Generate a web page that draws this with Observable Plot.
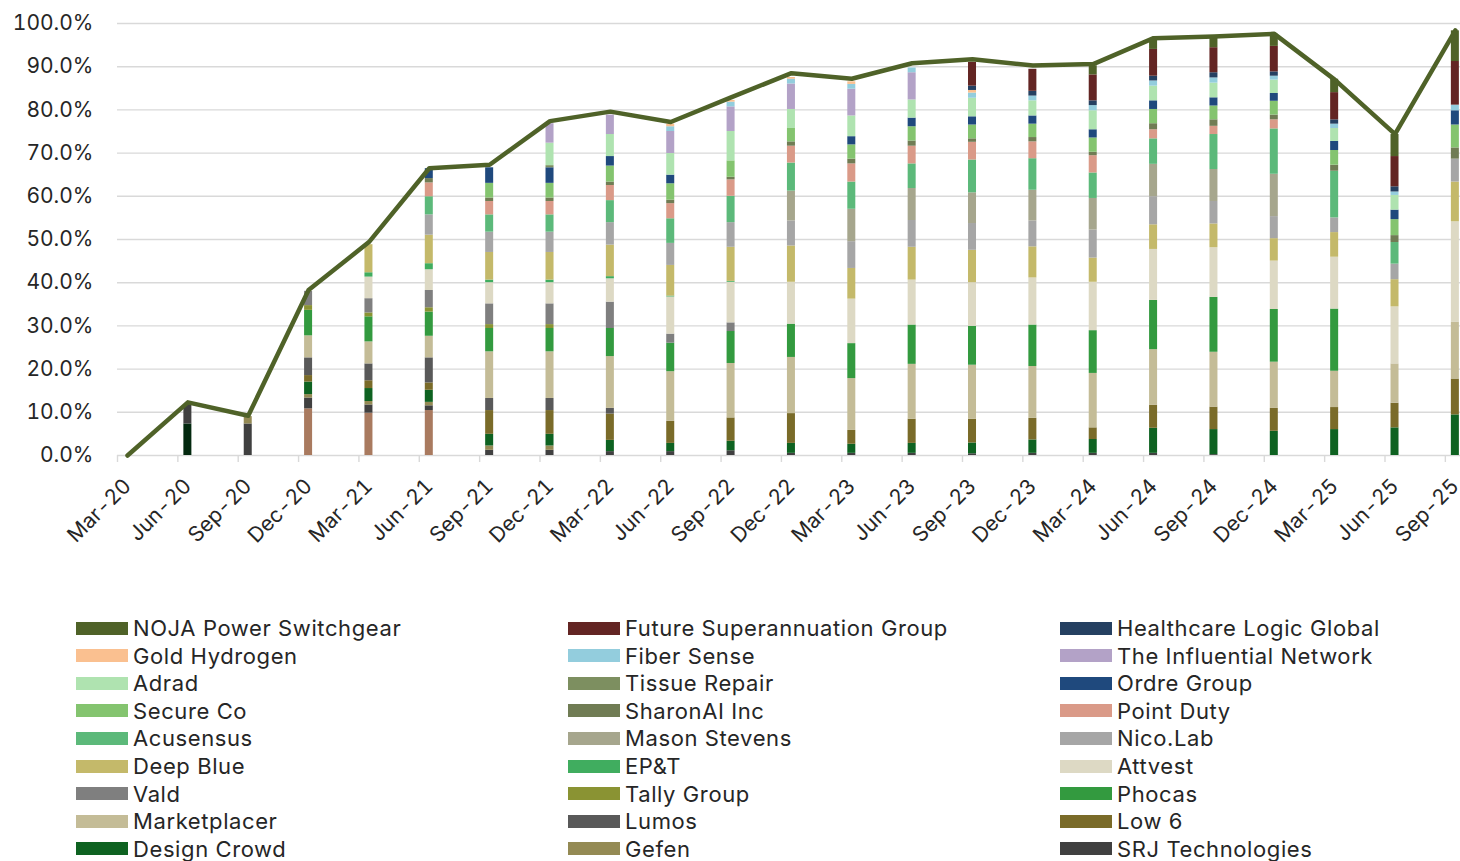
<!DOCTYPE html>
<html>
<head>
<meta charset="utf-8">
<script src="https://cdn.jsdelivr.net/npm/d3@7"></script>
<script src="https://cdn.jsdelivr.net/npm/@observablehq/plot@0.6"></script>
<style>
  html, body { margin: 0; padding: 0; background: #fff; }
  #wrap { position: relative; width: 1460px; height: 861px; overflow: hidden; font-family: Inter, "Noto Sans", sans-serif; }
  #chart { position: absolute; left: 0; top: 0; }
  #legend { position: absolute; left: 0; top: 0; width: 1460px; }
  .li { position: absolute; display: flex; align-items: center; height: 26px; font-size: 22px; letter-spacing: 0.6px; color: #262626; white-space: nowrap; }
  .sw { width: 52px; height: 13px; margin-right: 5px; flex: none; }
</style>
</head>
<body>
<div id="wrap"><div id="chart"></div><div id="legend"></div></div>
<script>
const periods = ["Mar-20","Jun-20","Sep-20","Dec-20","Mar-21","Jun-21","Sep-21","Dec-21","Mar-22","Jun-22","Sep-22","Dec-22","Mar-23","Jun-23","Sep-23","Dec-23","Mar-24","Jun-24","Sep-24","Dec-24","Mar-25","Jun-25","Sep-25"];

// Stack order, bottom to top
const seriesNames = ["Series A","Series B","SRJ Technologies","Gefen","Design Crowd","Low 6","Lumos","Marketplacer","Phocas","Tally Group","Vald","Attvest","EP&T","Deep Blue","Nico.Lab","Mason Stevens","Acusensus","Point Duty","SharonAI Inc","Secure Co","Ordre Group","Tissue Repair","Adrad","The Influential Network","Fiber Sense","Gold Hydrogen","Healthcare Logic Global","Future Superannuation Group","NOJA Power Switchgear"];
const seriesColors = ["#03290f","#a97a5f","#404040","#948a54","#0e6221","#7a6b29","#595959","#c4bc97","#339a3f","#8a9333","#7f7f7f","#ddd9c4","#40ad5f","#c4b96a","#a6a6a6","#a6a68d","#5cb97a","#da9a88","#707c54","#84c46f","#1f497d","#7d8f60","#afe3b0","#b3a2c7","#93cddd","#fac090","#254061","#632523","#4f6228"];

// Legend order (as displayed, row by row)
const legendNames = ["NOJA Power Switchgear","Future Superannuation Group","Healthcare Logic Global","Gold Hydrogen","Fiber Sense","The Influential Network","Adrad","Tissue Repair","Ordre Group","Secure Co","SharonAI Inc","Point Duty","Acusensus","Mason Stevens","Nico.Lab","Deep Blue","EP&T","Attvest","Vald","Tally Group","Phocas","Marketplacer","Lumos","Low 6","Design Crowd","Gefen","SRJ Technologies"];

const seriesA      = [0,7.3,0,0,0,0,0,0,0,0,0,0,0,0,0,0,0,0,0,0,0,0,0];
const seriesB      = [0,0,0,10.8,9.8,10.4,0,0,0,0,0,0,0,0,0,0,0,0,0,0,0,0,0];
const srj          = [0,4.3,7.3,2.5,1.9,1.1,1.2,1.2,0.9,0.9,1.1,0.5,0.5,0.5,0.4,0.5,0.5,0.5,0.2,0,0,0,0];
const gefen        = [0,0,1.7,0.8,0.8,0.8,1.0,1.0,0,0,0,0,0,0,0,0,0,0,0,0,0,0,0];
const designCrowd  = [0,0,0,2.9,3.0,2.8,2.7,2.7,2.6,1.9,2.2,2.3,2.1,2.3,2.5,3.1,3.2,5.8,5.8,5.6,6.0,6.4,9.4];
const low6         = [0,0,0,1.5,1.8,1.7,5.5,5.5,6.1,5.1,5.4,6.9,3.2,5.6,5.5,5.0,2.7,5.3,5.2,5.3,5.1,5.7,8.3];
const lumos        = [0,0,0,4.1,3.9,5.8,2.8,2.8,1.3,0,0,0,0,0,0,0,0,0,0,0,0,0,0];
const marketplacer = [0,0,0,5.1,5.1,5.0,10.8,10.8,12.0,11.5,12.6,13.0,12.0,12.7,12.5,12.0,12.6,12.9,12.7,10.7,8.4,9.1,13.2];
const phocas       = [0,0,0,5.9,5.8,5.6,5.4,5.4,6.5,6.6,7.4,7.7,8.1,9.1,9.0,9.6,9.9,11.4,12.7,12.2,14.4,0,0];
const tally        = [0,0,0,1.1,0.9,1.0,0.9,0.9,0,0,0,0,0,0,0,0,0,0,0,0,0,0,0];
const vald         = [0,0,0,3.3,3.3,4.0,4.8,4.8,6.1,2.1,2.0,0,0,0,0,0,0,0,0,0,0,0,0];
const attvest      = [0,0,0,0,5.0,4.8,4.9,4.9,5.4,8.6,9.4,9.7,10.3,10.4,10.1,10.9,11.2,11.8,11.5,11.2,12.0,13.2,23.2];
const ept          = [0,0,0,0,1.0,1.4,0.6,0.6,0.5,0.2,0.2,0,0,0,0,0,0,0,0,0,0,0,0];
const deepBlue     = [0,0,0,0,6.5,6.6,6.4,6.4,7.3,7.1,7.9,8.4,7.1,7.6,7.5,7.2,5.6,5.7,5.5,5.2,5.7,6.3,9.2];
const nicoLab      = [0,0,0,0,0,4.7,4.7,4.7,5.2,5.1,5.7,5.8,6.2,6.2,6.2,6.0,6.5,6.5,5.2,5.1,3.4,3.6,5.3];
const masonStevens = [0,0,0,0,0,0,0,0,0,0,0,6.9,7.5,7.4,7.1,7.1,7.3,7.5,7.4,9.8,0,0,0];
const acusensus    = [0,0,0,0,0,4.2,4.0,4.0,5.1,5.7,6.1,6.5,6.3,5.7,7.6,7.3,5.9,5.9,8.1,10.5,10.8,5.0,0];
const pointDuty    = [0,0,0,0,0,3.2,3.1,3.1,3.5,3.5,3.8,3.9,4.2,4.1,4.1,3.9,4.0,2.1,1.9,2.1,0,0,0];
const sharonAI     = [0,0,0,0,0,1.0,0.8,0.8,0.8,0.8,0.6,1.0,1.1,1.2,0.8,1.0,0.8,1.4,1.5,1.1,1.4,1.6,2.6];
const secureCo     = [0,0,0,0,0,0,3.4,3.4,3.7,3.8,3.8,3.1,3.3,3.3,3.2,3.1,3.3,3.3,3.2,3.2,3.4,3.7,5.3];
const ordre        = [0,0,0,0,0,2.3,3.6,3.6,2.2,2.0,0,0,1.9,2.0,1.9,1.9,1.9,2.0,1.9,1.8,2.1,2.2,3.3];
const tissueRepair = [0,0,0,0,0,0,0,0.5,0,0,0,0,0,0,0,0,0,0,0,0,0,0,0];
const adrad        = [0,0,0,0,0,0,0,5.2,5.1,5.0,6.8,4.4,4.8,4.2,4.3,3.5,4.4,3.4,3.4,3.1,3.0,3.4,0];
const influential  = [0,0,0,0,0,0,0,4.5,4.5,5.1,5.7,5.9,6.2,6.3,0,0,0,0,0,0,0,0,0];
const fiberSense   = [0,0,0,0,0,0,0,0,0,1.1,1.1,1.1,1.1,1.1,1.2,1.1,1.2,1.2,1.2,0.9,1.0,0.8,1.3];
const goldHydrogen = [0,0,0,0,0,0,0,0,0,0.6,0.4,0.4,0.6,0,0.6,0,0,0,0,0,0,0,0];
const healthcare   = [0,0,0,0,0,0,0,0,0,0,0,0,0,0,1.0,1.1,1.1,1.1,1.2,1.0,1.0,1.2,0];
const futureSuper  = [0,0,0,0,0,0,0,0,0,0,0,0,0,0,5.5,5.1,6.0,6.2,5.8,5.9,6.3,7.0,10.1];
const noja         = [0,0,0,0,0,0,0,0,0,0,0,0,0,0,0,0,2.1,2.4,2.4,2.8,3.1,5.1,7.1];

const totals = [0,12.3,9.2,38.3,49.4,66.5,67.3,77.4,79.6,77.2,82.9,88.5,87.2,90.8,91.7,90.3,90.6,96.6,97.0,97.6,87.0,74.4,98.4];

const yTicks = [0,10,20,30,40,50,60,70,80,90,100];

const seriesValues = [seriesA,seriesB,srj,gefen,designCrowd,low6,lumos,marketplacer,phocas,tally,vald,attvest,ept,deepBlue,nicoLab,masonStevens,acusensus,pointDuty,sharonAI,secureCo,ordre,tissueRepair,adrad,influential,fiberSense,goldHydrogen,healthcare,futureSuper,noja];

// build stacked rows
const rows = [];
periods.forEach((p, i) => {
  let acc = 0;
  seriesNames.forEach((s, k) => {
    const v = seriesValues[k][i];
    if (v > 0) { rows.push({i, series: s, y1: acc, y2: acc + v}); acc += v; }
  });
});
const lineData = periods.map((p, i) => ({i, v: totals[i]}));
const idx = periods.map((p, i) => i);
const offset = 0.166;   // category boundary offset (date axis)
const hw = 0.0663;      // half bar width in category units

const chart = Plot.plot({
  width: 1460, height: 560,
  marginLeft: 117, marginRight: 0, marginTop: 23, marginBottom: 105,
  x: {type: "linear", domain: [-offset, 22.085], label: null},
  y: {domain: [0, 100], label: null},
  color: {domain: seriesNames, range: seriesColors},
  style: {fontFamily: "Inter, 'Noto Sans', sans-serif", fontSize: "21px", color: "#262626", background: "#fff"},
  marks: [
    Plot.ruleY(yTicks, {stroke: "#d9d9d9", strokeWidth: 1.4}),
    Plot.axisY(yTicks, {tickSize: 0, tickPadding: 24, tickFormat: d => d.toFixed(1) + "%", fontSize: 21, color: "#262626", label: null}),
    Plot.axisX(idx.map(i => i - offset), {tickSize: 7, tickFormat: () => "", stroke: "#d9d9d9", strokeWidth: 1.4, strokeOpacity: 1, label: null}),
    Plot.axisX(idx, {tickSize: 0, tickPadding: 27, tickRotate: -45, tickFormat: i => periods[i], fontSize: 21, color: "#262626", label: null}),
    Plot.rect(rows, {x1: d => d.i - hw, x2: d => d.i + hw, y1: "y1", y2: "y2", fill: "series"}),
    Plot.line(lineData, {x: "i", y: "v", stroke: "#4f6228", strokeWidth: 4.5, strokeLinejoin: "round"})
  ]
});
document.getElementById("chart").appendChild(chart);

// Legend (3 columns, row-major)
const leg = document.getElementById("legend");
const colX = [76, 568, 1060];
legendNames.forEach((name, n) => {
  const r = Math.floor(n / 3), c = n % 3;
  const el = document.createElement("div");
  el.className = "li";
  el.style.left = colX[c] + "px";
  el.style.top = (628 + r * 27.6 - 13) + "px";
  const sw = document.createElement("span");
  sw.className = "sw";
  sw.style.background = seriesColors[seriesNames.indexOf(name)];
  const tx = document.createElement("span");
  tx.textContent = name;
  el.appendChild(sw); el.appendChild(tx);
  leg.appendChild(el);
});
</script>
</body>
</html>
